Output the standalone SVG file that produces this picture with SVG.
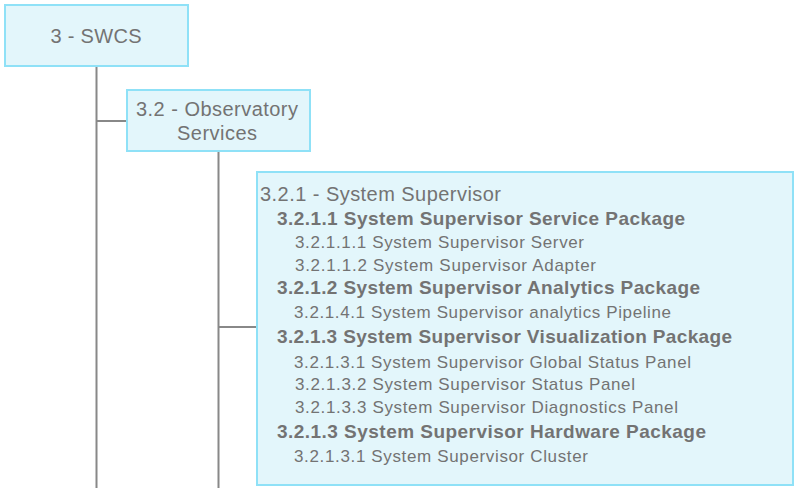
<svg xmlns="http://www.w3.org/2000/svg" width="797" height="488" viewBox="0 0 797 488">
<style>
.box{fill:#e3f6fb;stroke:#8fe1f7;stroke-width:2}
.ln{stroke:#888;stroke-width:2;fill:none}
text{font-family:"Liberation Sans",Arial,sans-serif;fill:#737373}
.t0{font-size:20px}
.t1{font-size:20px}
.h{font-size:19px;font-weight:bold}
.s{font-size:17px}
</style>
<rect width="797" height="488" fill="#fff"/>
<g id="connectors">
<path class="ln" d="M96.5 66V488M96.5 121H127M218.5 151V488M218.5 327H257"/>
</g>
<g id="n3">
<rect class="box" x="5" y="5" width="183" height="61"/>
<text class="t0" x="96" y="43" text-anchor="middle" textLength="91">3 - SWCS</text>
</g>
<g id="n32">
<rect class="box" x="127" y="90" width="183" height="61"/>
<text class="t0" x="217" y="116" text-anchor="middle" textLength="162">3.2 - Observatory</text>
<text class="t0" x="217" y="140" text-anchor="middle" textLength="80">Services</text>
</g>
<g id="n321">
<rect class="box" x="257" y="172" width="536" height="313"/>
<text class="t1" x="260" y="201" textLength="241">3.2.1 - System Supervisor</text>
<text class="h" x="277" y="225" textLength="408">3.2.1.1 System Supervisor Service Package</text>
<text class="s" x="295" y="248" textLength="289">3.2.1.1.1 System Supervisor Server</text>
<text class="s" x="295" y="271" textLength="301">3.2.1.1.2 System Supervisor Adapter</text>
<text class="h" x="277" y="294" textLength="423">3.2.1.2 System Supervisor Analytics Package</text>
<text class="s" x="294" y="318" textLength="377">3.2.1.4.1 System Supervisor analytics Pipeline</text>
<text class="h" x="277" y="343" textLength="455">3.2.1.3 System Supervisor Visualization Package</text>
<text class="s" x="294" y="368" textLength="397">3.2.1.3.1 System Supervisor Global Status Panel</text>
<text class="s" x="295" y="390" textLength="340">3.2.1.3.2 System Supervisor Status Panel</text>
<text class="s" x="295" y="413" textLength="383">3.2.1.3.3 System Supervisor Diagnostics Panel</text>
<text class="h" x="277" y="438" textLength="429">3.2.1.3 System Supervisor Hardware Package</text>
<text class="s" x="294" y="462" textLength="294">3.2.1.3.1 System Supervisor Cluster</text>
</g>
</svg>
